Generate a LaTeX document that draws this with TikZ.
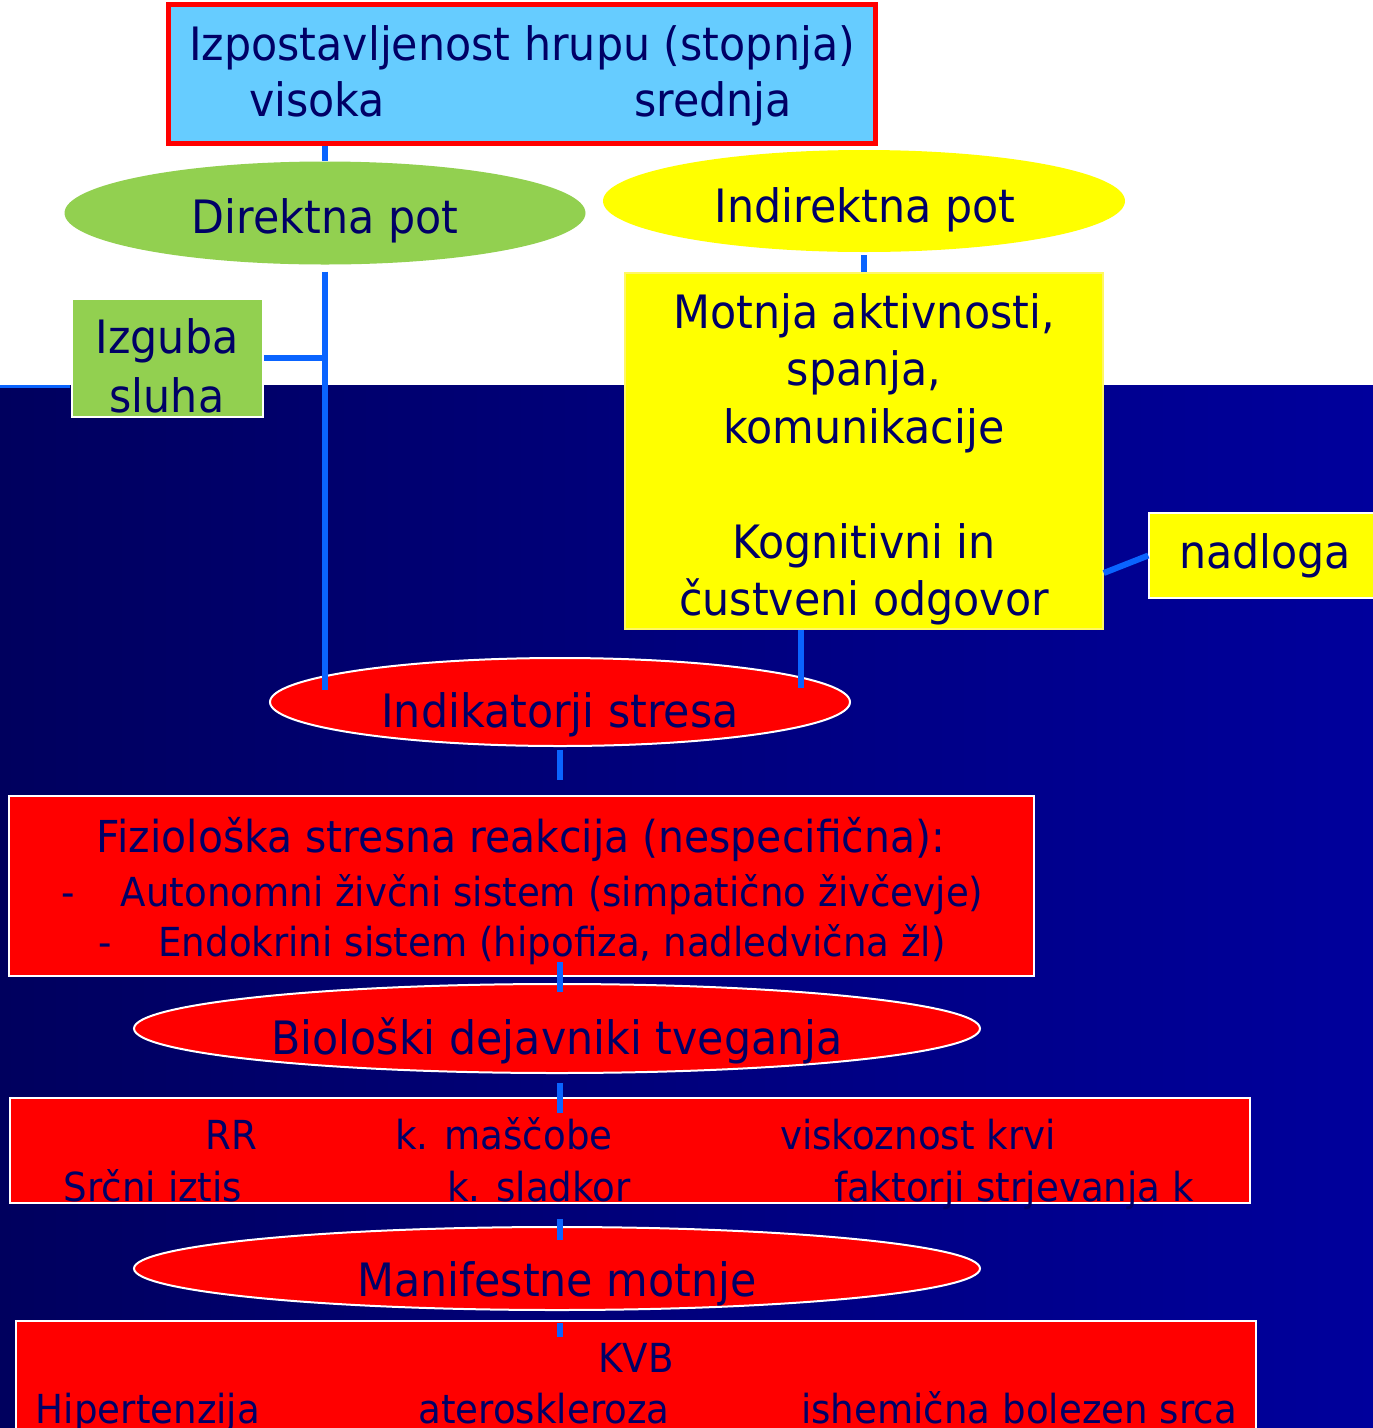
\documentclass[tikz,border=0pt]{standalone}
\usepackage{fontspec}
\setmainfont{DejaVu Sans}[FakeStretch=0.93]
\usetikzlibrary{shapes.geometric}
\definecolor{navytext}{HTML}{000066}
\definecolor{lightblue}{HTML}{66CCFF}
\definecolor{leafgreen}{HTML}{92D050}
\definecolor{brightyellow}{HTML}{FFFF00}
\definecolor{brightred}{HTML}{FF0000}
\definecolor{connblue}{HTML}{0A64FF}
\definecolor{bgleft}{HTML}{00005E}
\definecolor{bgright}{HTML}{00009C}
\begin{document}
\begin{tikzpicture}[x=1pt,y=-1pt,
  conn/.style={draw=connblue,line width=6pt},
  lbl/.style={anchor=base,inner sep=0pt,text=navytext,font=\fontsize{46}{55}\selectfont},
  lblsm/.style={lbl,font=\fontsize{40}{48}\selectfont},
  boxnode/.style={rectangle,inner sep=0pt,draw=white,line width=1.5pt},
  ell/.style={ellipse,inner sep=0pt,draw=white,line width=2pt}
]
\useasboundingbox (0,0) rectangle (1373,1428);
\fill[white] (0,0) rectangle (1373,385);
\shade[left color=bgleft,right color=bgright] (0,385) rectangle (1373,1428);
\draw[connblue,line width=3pt] (0,386) -- (70,386);

% top box
\node[boxnode,draw=brightred,line width=5pt,fill=lightblue,minimum width=707pt,minimum height=139pt] (top) at (522,74) {};
\node[lbl] (toptitle) at (522,60) {Izpostavljenost hrupu (stopnja)};
\node[lbl] (vis) at (317,116) {visoka};
\node[lbl] (sred) at (713,116) {srednja};

% paths
\node[ellipse,inner sep=0pt,fill=leafgreen,minimum width=521pt,minimum height=103pt] (dir) at (325,213) {};
\node[lbl] (dirt) at (325,233) {Direktna pot};
\node[ellipse,inner sep=0pt,fill=brightyellow,minimum width=522pt,minimum height=102pt] (indir) at (864,201) {};
\node[lbl] (indirt) at (865,222) {Indirektna pot};

% Izguba sluha
\node[boxnode,fill=leafgreen,minimum width=191pt,minimum height=118pt] (izg) at (167.5,358) {};
\node[lbl] (izg1) at (167,353) {Izguba};
\node[lbl] (izg2) at (167,412) {sluha};

% Motnja
\node[boxnode,draw=yellow!60!white,fill=brightyellow,minimum width=478pt,minimum height=356pt] (mot) at (864,451) {};
\node[lbl] (mot1) at (864,328) {Motnja aktivnosti,};
\node[lbl] (mot2) at (864,385) {spanja,};
\node[lbl] (mot3) at (864,443) {komunikacije};
\node[lbl] (mot4) at (864,558) {Kognitivni in};
\node[lbl] (mot5) at (864,615) {čustveni odgovor};

% nadloga
\node[boxnode,fill=brightyellow,minimum width=226pt,minimum height=85pt] (nad) at (1262,555.5) {};
\node[lbl] (nadt) at (1265,568) {nadloga};

% Indikatorji stresa
\node[ell,fill=brightred,minimum width=580pt,minimum height=88pt] (indik) at (560,702) {};
\node[lbl] (indikt) at (560,727) {Indikatorji stresa};

% Fizioloska
\node[boxnode,fill=brightred,minimum width=1025pt,minimum height=180pt] (fiz) at (521.5,886) {};
\node[lbl,font=\fontsize{44}{52}\selectfont] (fiz1) at (521,852) {Fiziološka stresna reakcija (nespecifična):};
\node[lblsm] (fizd1) at (68,906) {-};
\node[lblsm] (fiz2) at (552,906) {Autonomni živčni sistem (simpatično živčevje)};
\node[lblsm] (fizd2) at (105,956) {-};
\node[lblsm] (fiz3) at (552,956) {Endokrini sistem (hipofiza, nadledvična žl)};

% Bioloski
\node[ell,fill=brightred,minimum width=846pt,minimum height=89pt] (bioell) at (557,1028.5) {};
\node[lbl] (bioellt) at (557,1054) {Biološki dejavniki tveganja};

\node[boxnode,fill=brightred,minimum width=1240pt,minimum height=105pt] (biobox) at (630,1150.5) {};
\node[lblsm] (b1) at (231,1149) {RR};
\node[lblsm] (b2) at (504,1149) {k. maščobe};
\node[lblsm] (b3) at (918,1149) {viskoznost krvi};
\node[lblsm] (b4) at (153,1201) {Srčni iztis};
\node[lblsm] (b5) at (539,1201) {k. sladkor};
\node[lblsm] (b6) at (1014,1201) {faktorji strjevanja k};

% Manifestne
\node[ell,fill=brightred,minimum width=846pt,minimum height=83pt] (manell) at (557,1268.5) {};
\node[lbl] (manellt) at (557,1296) {Manifestne motnje};

\node[boxnode,fill=brightred,minimum width=1240pt,minimum height=118pt] (last) at (636,1380) {};
\node[lblsm] (l1) at (636,1372) {KVB};
\node[lblsm] (l2) at (148,1423) {Hipertenzija};
\node[lblsm] (l3) at (544,1423) {ateroskleroza};
\node[lblsm] (l4) at (1019,1423) {ishemična bolezen srca};

% connectors
\draw[conn] (top.south -| dir.north) -- (dir.north);
\draw[conn,shorten <=7pt,shorten >=-33pt] (dir.south) -- (dir.south |- indik.north);
\draw[conn] (izg.east) -- (izg.east -| dir.south);
\draw[conn,shorten <=3pt] (indir.south) -- (mot.north);
\coordinate (mb) at (801,688);
\draw[conn] (mot.south -| mb) -- (mb);
\draw[conn] ([yshift=-122pt]mot.east) -- (nad.west);
\draw[conn,shorten <=3pt,shorten >=15pt] (indik.south) -- (indik.south |- fiz.north);
\draw[conn,shorten <=-15pt,shorten >=-9pt] (fiz.south -| indik.south) -- (bioell.north -| indik.south);
\draw[conn,shorten <=9pt,shorten >=-16pt] (bioell.south -| indik.south) -- (biobox.north -| indik.south);
\draw[conn,shorten <=15pt,shorten >=-14pt] (biobox.south -| indik.south) -- (manell.north -| indik.south);
\draw[conn,shorten <=12pt,shorten >=-17pt] (manell.south -| indik.south) -- (last.north -| indik.south);
\end{tikzpicture}
\end{document}
